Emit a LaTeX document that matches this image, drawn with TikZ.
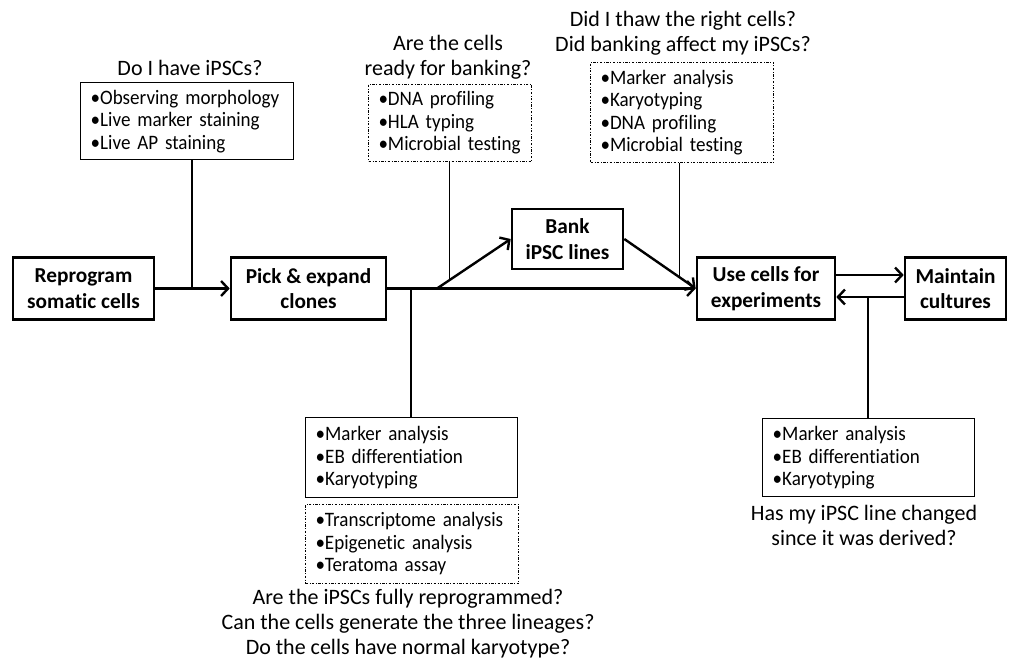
\documentclass[tikz,border=0pt]{standalone}
\usepackage{fontspec}
\setmainfont{Carlito}[Ligatures=NoCommon]
\newfontfamily\listfont{Carlito}[Ligatures=NoCommon,FakeStretch=0.93,WordSpace=0.8]
\usetikzlibrary{arrows.meta,calc}
\begin{document}
\begin{tikzpicture}[x=1pt,y=-1pt,
  process/.style={draw, line width=2.6pt, align=center, inner sep=0pt,
    font=\bfseries\fontsize{21.3}{25.5}\selectfont, minimum height=62pt},
  testbox/.style={draw, line width=1.4pt, anchor=north west, align=left,
    inner xsep=10pt, inner ysep=0pt, font=\listfont\fontsize{20.5}{22.5}\selectfont},
  dotbox/.style={testbox, line width=1pt,
    dash pattern=on 2.4pt off 1.6pt on 0.8pt off 1.6pt},
  question/.style={align=center, inner sep=0pt, font=\fontsize{22}{25}\selectfont},
  flow/.style={line width=2.4pt, -{Straight Barb[length=7pt,width=15pt,line width=2.4pt]}},
  link/.style={line width=1.2pt}
]
\useasboundingbox (0,0) rectangle (1009,663);
% process boxes
\node[process, minimum width=141pt] (rep) at (83.5,288.5) {Reprogram\\somatic cells};
\node[process, minimum width=155pt] (pick) at (308.5,288.5) {Pick \& expand\\clones};
\node[process, minimum width=111pt, minimum height=60pt] (bank) at (567.5,239) {Bank\\iPSC lines};
\node[process, minimum width=138pt] (use) at (766,288.5) {Use cells for\\experiments};
\node[process, minimum width=101pt] (maint) at (955.5,288.5) {Maintain\\cultures};
% test boxes
\node[testbox, text width=193pt, minimum height=77pt] (t1) at (80,82)
  {•Observing morphology\\•Live marker staining\\•Live AP staining};
\node[dotbox, text width=143pt, minimum height=77pt] (t2) at (368,84)
  {•DNA profiling\\•HLA typing\\•Microbial testing};
\node[dotbox, text width=163pt, minimum height=100pt] (t3) at (590,62)
  {•Marker analysis\\•Karyotyping\\•DNA profiling\\•Microbial testing};
\node[testbox, text width=192pt, minimum height=80pt] (t4) at (305,417)
  {•Marker analysis\\•EB differentiation\\•Karyotyping};
\node[dotbox, text width=193pt, minimum height=79pt] (t5) at (305,504)
  {•Transcriptome analysis\\•Epigenetic analysis\\•Teratoma assay};
\node[testbox, text width=192pt, minimum height=78pt] (t6) at (762,418)
  {•Marker analysis\\•EB differentiation\\•Karyotyping};
% questions
\node[question] (q1) at (190,68) {Do I have iPSCs?};
\node[question] (q2) at (448,57) {Are the cells\\ready for banking?};
\node[question] (q3) at (683,33) {Did I thaw the right cells?\\Did banking affect my iPSCs?};
\node[question] (q4) at (408,624) {Are the iPSCs fully reprogrammed?\\Can the cells generate the three lineages?\\Do the cells have normal karyotype?};
\node[question] (q5) at (864,525.5) {Has my iPSC line changed\\since it was derived?};
% junction coordinates
\coordinate (j1) at (192,288.5);
\coordinate (b0) at (437,288.5);
\coordinate (j2) at ($(b0)!0.173!(bank.west)$);
\coordinate (j3) at ($(bank.east)!0.77!(use.west)$);
\coordinate (j4) at (411,288.5);
\coordinate (j6) at (868,297);
% flow arrows
\draw[flow] (rep.east) -- (pick.west);
\draw[flow] (pick.east) -- (use.west);
\draw[flow] (b0) -- (bank.west);
\draw[flow] (bank.east) -- (use.west);
\draw[flow] ([yshift=13.5pt]use.east) -- ([yshift=13.5pt]maint.west);
\draw[flow] ([yshift=-8.5pt]maint.west) -- ([yshift=-8.5pt]use.east);
% links
\draw[link] (t1.south -| j1) -- (j1);
\draw[link] (t2.south -| j2) -- (j2);
\draw[link] (t3.south -| j3) -- (j3);
\draw[link] (j4) -- (t4.north -| j4);
\draw[link] (j6) -- (t6.north -| j6);
\end{tikzpicture}
\end{document}
